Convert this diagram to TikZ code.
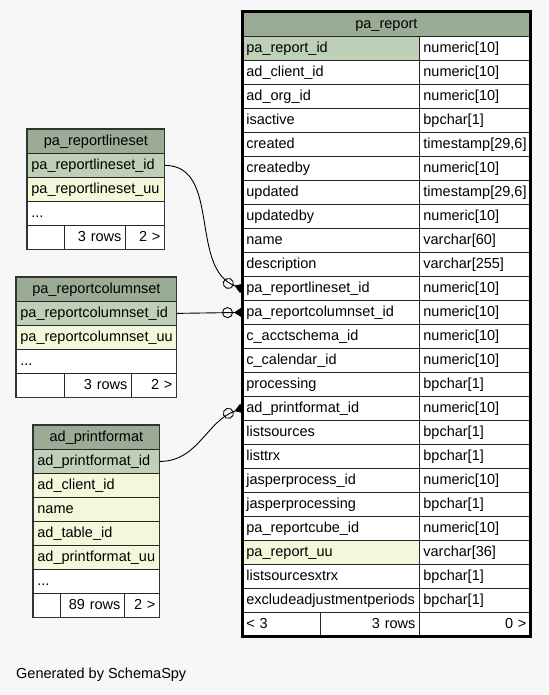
\documentclass[tikz,border=0pt]{standalone}
\usepackage{fontspec}
\setmainfont{Liberation Sans}
\usetikzlibrary{positioning, arrows.meta}
\definecolor{hdrfill}{RGB}{155,172,150}
\definecolor{keyfill}{RGB}{190,209,184}
\definecolor{uufill}{RGB}{244,247,218}
\definecolor{pagebg}{RGB}{247,247,247}

\begin{document}
\begin{tikzpicture}[x=1pt, y=-1pt,
cell/.style= {rectangle, draw=black!85, line width=0.8pt, anchor=north west, minimum height=24pt, inner xsep=4pt, inner ysep=0pt, text height=10.5pt, text depth=3pt, font=\fontsize{14.5}{16}\selectfont},
hdr/.style= {cell, fill=hdrfill, align=center},
col/.style= {cell, align=left, text width=#1},
num/.style= {cell, align=right, text width=#1},
fk/.style= {-{Circle[open, length=11pt, width=11pt, sep=1pt] Triangle[reversed, length=8pt, width=10pt]}, line width=0.9pt} ]
\fill[pagebg] (0,0) rectangle (548,695);
\useasboundingbox (0,0) rectangle (548,695);
% pa_report
\node (rpt) [hdr, minimum width=288pt] at (242,12) {pa\_report};
\foreach \c/\t/\f [count=\i] in {pa\_report\_id/numeric[10]/keyfill, ad\_client\_id/numeric[10]/white,
  ad\_org\_id/numeric[10]/white, isactive/bpchar[1]/white, created/{timestamp[29,6]}/white,
  createdby/numeric[10]/white, updated/{timestamp[29,6]}/white, updatedby/numeric[10]/white,
  name/varchar[60]/white, description/varchar[255]/white, pa\_reportlineset\_id/numeric[10]/white,
  pa\_reportcolumnset\_id/numeric[10]/white, c\_acctschema\_id/numeric[10]/white,
  c\_calendar\_id/numeric[10]/white, processing/bpchar[1]/white, ad\_printformat\_id/numeric[10]/white,
  listsources/bpchar[1]/white, listtrx/bpchar[1]/white, jasperprocess\_id/numeric[10]/white,
  jasperprocessing/bpchar[1]/white, pa\_reportcube\_id/numeric[10]/white, pa\_report\_uu/varchar[36]/uufill,
  listsourcesxtrx/bpchar[1]/white, excludeadjustmentperiods/bpchar[1]/white}
{
  \node (r\i) [col=169pt, fill=\f] at (242,12+24*\i) {\c};
  \node (t\i) [col=103pt, fill=white] at (419,12+24*\i) {\t};
}
\node (f1) [col=70pt, fill=white] at (242,612) {< 3};
\node (f2) [num=91pt, fill=white] at (320,612) {3 rows};
\node (f3) [num=103pt, fill=white] at (419,612) {0 >};
\draw[line width=3pt] (rpt.north west) rectangle (f3.south east);
% pa_reportlineset
\node (ls) [hdr, minimum width=137pt] at (27,129) {pa\_reportlineset};
\node (ls1) [col=129pt, fill=keyfill] at (27,153) {pa\_reportlineset\_id};
\node (ls2) [col=129pt, fill=uufill] at (27,177) {pa\_reportlineset\_uu};
\node (ls3) [col=129pt, fill=white] at (27,201) {...};
\node (lsf1) [col=29pt, fill=white] at (27,225) {};
\node (lsf2) [num=53pt, fill=white] at (64,225) {3 rows};
\node (lsf3) [num=31pt, fill=white] at (125,225) {2 >};
\draw[line width=1.2pt, black!80] (ls.north west) rectangle (lsf3.south east);
% pa_reportcolumnset
\node (cs) [hdr, minimum width=160pt] at (16,277) {pa\_reportcolumnset};
\node (cs1) [col=152pt, fill=keyfill] at (16,301) {pa\_reportcolumnset\_id};
\node (cs2) [col=152pt, fill=uufill] at (16,325) {pa\_reportcolumnset\_uu};
\node (cs3) [col=152pt, fill=white] at (16,349) {...};
\node (csf1) [col=40pt, fill=white] at (16,373) {};
\node (csf2) [num=59pt, fill=white] at (64,373) {3 rows};
\node (csf3) [num=37pt, fill=white] at (131,373) {2 >};
\draw[line width=1.2pt, black!80] (cs.north west) rectangle (csf3.south east);
% ad_printformat
\node (pf) [hdr, minimum width=126pt] at (33,425) {ad\_printformat};
\node (pf1) [col=118pt, fill=keyfill] at (33,449) {ad\_printformat\_id};
\node (pf2) [col=118pt, fill=uufill] at (33,473) {ad\_client\_id};
\node (pf3) [col=118pt, fill=uufill] at (33,497) {name};
\node (pf4) [col=118pt, fill=uufill] at (33,521) {ad\_table\_id};
\node (pf5) [col=118pt, fill=uufill] at (33,545) {ad\_printformat\_uu};
\node (pf6) [col=118pt, fill=white] at (33,569) {...};
\node (pff1) [col=19pt, fill=white] at (33,593) {};
\node (pff2) [num=56pt, fill=white] at (60,593) {89 rows};
\node (pff3) [num=27pt, fill=white] at (124,593) {2 >};
\draw[line width=1.2pt, black!80] (pf.north west) rectangle (pff3.south east);
% links
\draw[fk] (ls1.east) to[out=0, in=160] (r11.west);
\draw[fk] (cs1.east) -- (r12.west);
\draw[fk] (pf1.east) to[out=0, in=200] (r16.west);
\node (gen) [anchor=west, inner sep=0pt, font=\fontsize{14.5}{16}\selectfont] at (16,675) {Generated by SchemaSpy};
\end{tikzpicture}
\end{document}
